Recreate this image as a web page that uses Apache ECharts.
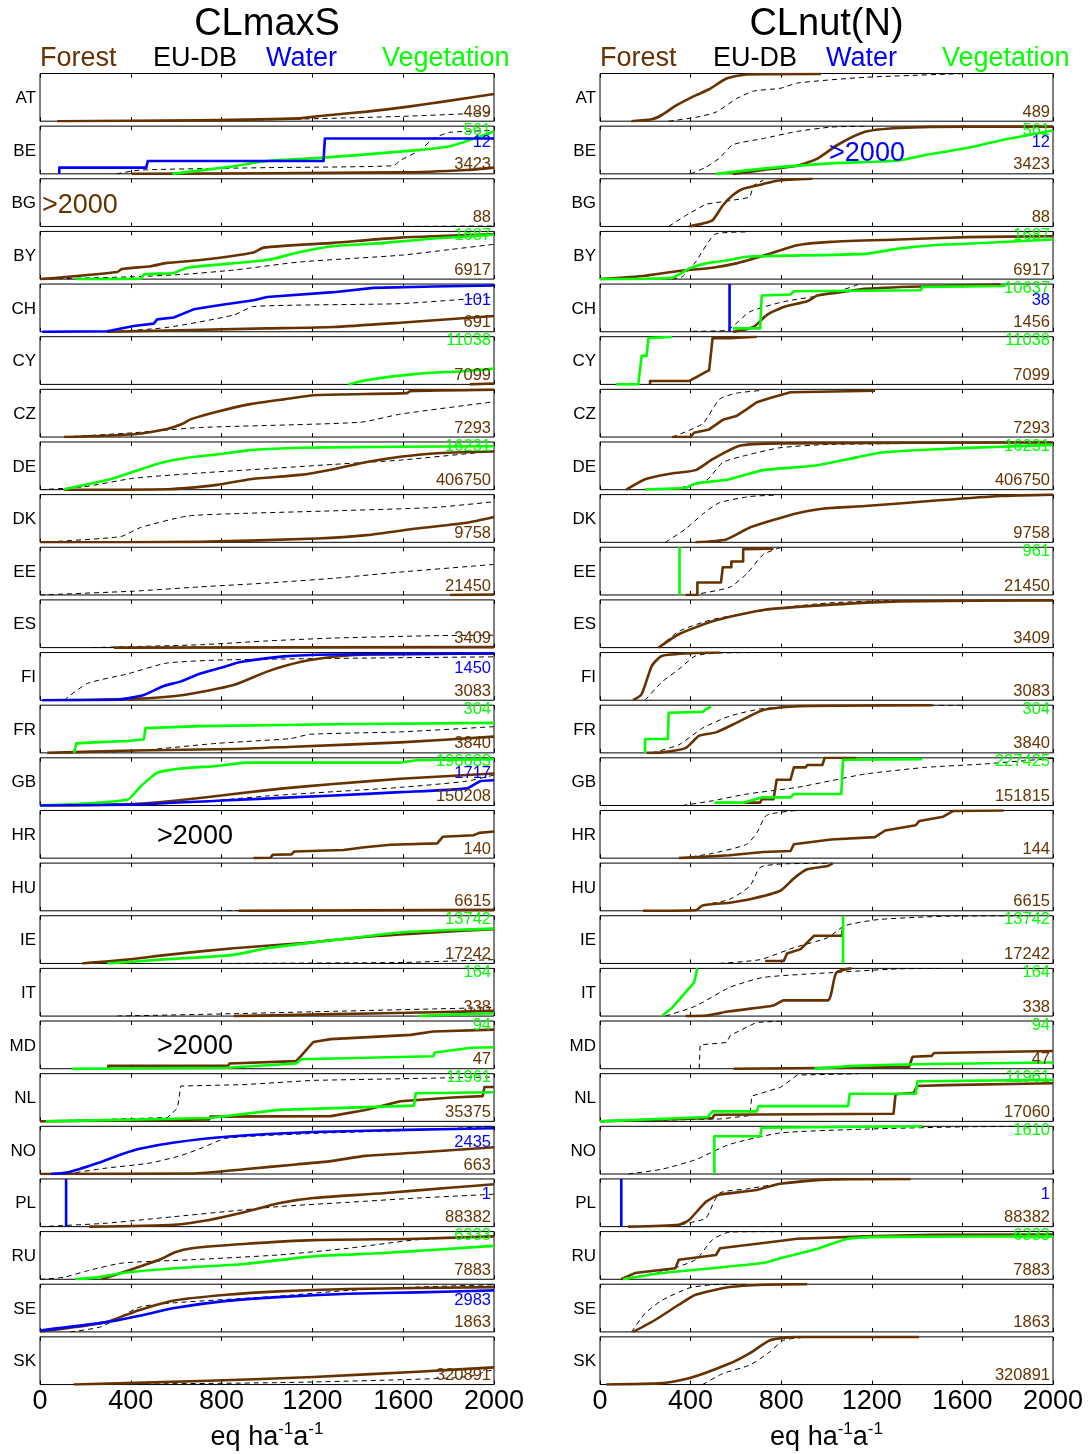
<!DOCTYPE html>
<html><head><meta charset="utf-8">
<script src="https://cdn.jsdelivr.net/npm/echarts@6/dist/echarts.min.js"></script>
<style>html,body{margin:0;padding:0;background:#fff}#c{width:1090px;height:1454px}</style>
</head><body><div id="c"></div>
<script>
// ---------------- DATA ----------------
const countries = ['AT','BE','BG','BY','CH','CY','CZ','DE','DK','EE','ES','FI','FR','GB','HR','HU','IE','IT','MD','NL','NO','PL','RU','SE','SK'];
const xTicks = [0, 400, 800, 1200, 1600, 2000];
const panelTitles = ['CLmaxS', 'CLnut(N)'];
const legendNames = ['Forest', 'EU-DB', 'Water', 'Vegetation'];

// CLmaxS : cumulative fraction curves [x (eq/ha/a), fraction]
const sForest = [
 [[76,0],[700,0.02],[1146,0.06],[1234,0.11],[1440,0.2],[1615,0.3],[1777,0.41],[2000,0.57]], // AT
 [[406,0],[1587,0.03],[1880,0.08],[2000,0.13]], // BE
 null, // BG
 [[0,0],[340,0.15],[360,0.21],[487,0.27],[560,0.34],[707,0.4],[941,0.56],[985,0.66],[1293,0.76],[1587,0.87],[2000,0.94]], // BY
 [[296,0],[1000,0.07],[1293,0.1],[1587,0.19],[2000,0.33]], // CH
 [[1894,0],[2000,0.02]], // CY
 [[106,0],[413,0.06],[560,0.17],[633,0.29],[663,0.37],[780,0.53],[927,0.69],[1073,0.79],[1220,0.88],[1616,0.92],[1630,0.96],[2000,0.99]], // CZ
 [[106,0],[560,0.01],[780,0.1],[927,0.22],[1146,0.31],[1293,0.43],[1440,0.58],[1587,0.69],[1733,0.76],[2000,0.8]], // DE
 [[0,0],[707,0.01],[1220,0.08],[1440,0.15],[1660,0.29],[1880,0.41],[2000,0.53]], // DK
 [[1806,0],[2000,0.01]], // EE
 [[326,0],[2000,0.01]], // ES
 [[10,0],[413,0.03],[633,0.11],[853,0.32],[1000,0.6],[1146,0.8],[1293,0.91],[1440,0.96],[2000,0.98]], // FI
 [[32,0],[413,0.05],[853,0.08],[1117,0.13],[1587,0.22],[2000,0.34]], // FR
 [[0,0],[413,0.03],[633,0.12],[853,0.24],[1073,0.36],[1293,0.45],[1587,0.56],[2000,0.67]], // GB
 [[941,0],[1015,0.01],[1025,0.07],[1108,0.08],[1120,0.14],[1337,0.17],[1430,0.23],[1545,0.28],[1750,0.31],[1775,0.45],[1910,0.48],[1935,0.53],[2000,0.56]], // HR
 [[875,0],[2000,0.02]], // HU
 [[186,0],[384,0.08],[560,0.18],[853,0.32],[1146,0.42],[1440,0.56],[1733,0.65],[2000,0.72]], // IE
 [[853,0],[1293,0.04],[1733,0.08],[2000,0.11]], // IT
 [[301,0],[301,0.06],[829,0.06],[835,0.11],[1128,0.16],[1150,0.27],[1204,0.56],[1281,0.62],[1633,0.71],[1732,0.78],[2000,0.82]], // MD
 [[0,0],[745,0.04],[750,0.1],[1281,0.11],[1434,0.24],[1587,0.42],[1817,0.5],[1950,0.53],[1958,0.72],[2000,0.72]], // NL
 [[0,0],[669,0.01],[898,0.1],[1128,0.2],[1281,0.27],[1434,0.38],[1664,0.45],[2000,0.56]], // NO
 [[217,0],[592,0.04],[745,0.14],[898,0.3],[1051,0.49],[1204,0.6],[1510,0.7],[1817,0.82],[2000,0.89]], // PL
 [[271,0],[363,0.14],[531,0.42],[592,0.56],[669,0.65],[898,0.74],[1204,0.82],[1664,0.85],[2000,0.9]], // RU
 [[0,0.01],[286,0.2],[439,0.46],[592,0.66],[822,0.78],[1051,0.85],[1357,0.9],[2000,0.94]], // SE
 [[148,0],[745,0.08],[1204,0.16],[1664,0.27],[2000,0.36]] // SK
];
const sEU = [
 [[413,0],[1000,0.03],[1587,0.1],[2000,0.18]], // AT
 [[337,0],[443,0.08],[1000,0.13],[1557,0.17],[1587,0.28],[1675,0.5],[1733,0.74],[1806,0.87],[2000,0.91]], // BE
 [[1572,0],[2000,0.01]], // BG
 [[0,0],[413,0.05],[633,0.1],[853,0.19],[1146,0.36],[1587,0.5],[1806,0.62],[2000,0.73]], // BY
 [[311,0],[560,0.09],[853,0.35],[941,0.53],[1587,0.59],[2000,0.73]], // CH
 null, // CY
 [[106,0],[413,0.09],[707,0.2],[1411,0.31],[1587,0.48],[2000,0.74]], // CZ
 [[0,0],[194,0.06],[413,0.24],[707,0.35],[1000,0.44],[1293,0.53],[1587,0.62],[2000,0.81]], // DE
 [[0,0],[355,0.12],[443,0.31],[648,0.55],[853,0.6],[1293,0.66],[1733,0.73],[2000,0.85]], // DK
 [[0,0],[413,0.08],[707,0.17],[1000,0.25],[1293,0.35],[1587,0.48],[2000,0.64]], // EE
 [[230,0],[707,0.06],[1000,0.14],[1293,0.2],[1733,0.25],[2000,0.26]], // ES
 [[106,0],[208,0.35],[384,0.55],[560,0.78],[853,0.85],[2000,0.91]], // FI
 [[120,0],[413,0.04],[780,0.2],[1103,0.3],[1190,0.39],[1587,0.44],[2000,0.55]], // FR
 [[120,0],[707,0.08],[1000,0.2],[1293,0.29],[1587,0.38],[1880,0.51],[2000,0.64]], // GB
 null, // HR
 [[824,0],[2000,0.01]], // HU
 [[824,0],[1587,0.02],[2000,0.08]], // IE
 [[340,0],[853,0.05],[1293,0.1],[1733,0.15],[2000,0.18]], // IT
 null, // MD
 [[0,0],[562,0.08],[606,0.28],[620,0.74],[898,0.77],[1204,0.86],[2000,0.93]], // NL
 [[118,0],[286,0.12],[485,0.23],[623,0.39],[715,0.55],[822,0.75],[1204,0.85],[1664,0.92],[2000,1.0]], // NO
 [[0,0],[286,0.07],[592,0.21],[1051,0.42],[1357,0.51],[1664,0.6],[2000,0.68]], // PL
 [[0,0],[103,0.04],[210,0.18],[363,0.34],[669,0.41],[1051,0.51],[1357,0.65],[1664,0.83],[2000,0.9]], // RU
 [[133,0],[270,0.11],[439,0.52],[592,0.61],[1051,0.75],[1357,0.87],[1664,0.94],[2000,0.99]], // SE
 [[148,0],[1051,0.04],[1510,0.09],[1817,0.14],[1930,0.2],[1960,0.28],[2000,0.3]] // SK
];
const sWater = [
 null,
 [[85,0],[85,0.13],[468,0.13],[475,0.27],[1249,0.27],[1255,0.74],[2000,0.74]], // BE
 null, null,
 [[10,0],[296,0.01],[413,0.12],[501,0.17],[516,0.26],[589,0.3],[677,0.47],[795,0.56],[941,0.66],[1000,0.73],[1293,0.83],[1469,0.92],[1733,0.95],[2000,0.97]], // CH
 null, null, null, null, null, null,
 [[10,0],[340,0.01],[457,0.11],[545,0.3],[619,0.39],[707,0.56],[824,0.72],[883,0.8],[1073,0.92],[1293,0.96],[2000,0.98]], // FI
 null,
 [[0,0],[413,0.02],[780,0.1],[1293,0.21],[1587,0.28],[1880,0.36],[1940,0.51],[2000,0.53]], // GB
 null, null, null, null, null, null,
 [[49,0],[118,0.03],[255,0.23],[363,0.42],[439,0.53],[592,0.66],[822,0.78],[1204,0.88],[1664,0.93],[2000,0.96]], // NO
 [[115,0],[115,1]], // PL
 null,
 [[0,0.03],[286,0.2],[439,0.34],[592,0.5],[822,0.65],[1051,0.73],[1357,0.8],[1664,0.83],[2000,0.87]], // SE
 null
];
const sVeg = [
 null,
 [[582,0],[839,0.15],[1000,0.27],[1249,0.34],[1572,0.46],[1806,0.58],[2000,0.89]], // BE
 null,
 [[157,0],[443,0.01],[460,0.1],[589,0.13],[648,0.24],[1000,0.4],[1146,0.57],[1293,0.69],[1513,0.76],[1733,0.85],[2000,0.93]], // BY
 null,
 [[1359,0],[1440,0.09],[1660,0.22],[1880,0.28],[2000,0.33]], // CY
 null,
 [[106,0.01],[267,0.17],[340,0.26],[413,0.38],[531,0.56],[648,0.67],[780,0.74],[927,0.83],[1146,0.88],[1587,0.9],[2000,0.91]], // DE
 null, null, null, null,
 [[150,0],[160,0.2],[238,0.22],[384,0.25],[457,0.28],[465,0.52],[707,0.56],[1293,0.6],[2000,0.63]], // FR
 [[0,0],[384,0.12],[443,0.4],[518,0.69],[633,0.78],[780,0.83],[912,0.9],[1587,0.9],[1660,0.95],[2000,0.97]], // GB
 null, null,
 [[296,0],[531,0.08],[853,0.18],[1000,0.32],[1293,0.49],[1587,0.65],[1806,0.7],[2000,0.73]], // IE
 [[1667,0],[1806,0.03],[2000,0.06]], // IT
 [[141,0],[822,0.02],[1128,0.11],[1150,0.2],[1732,0.26],[1740,0.34],[1900,0.44],[2000,0.45]], // MD
 [[26,0],[745,0.07],[1051,0.24],[1648,0.33],[1655,0.59],[2000,0.61]], // NL
 null, null,
 [[156,0],[255,0.04],[363,0.13],[592,0.23],[898,0.32],[1204,0.48],[1510,0.55],[1740,0.62],[2000,0.7]], // RU
 null, null
];
const sForestN = [489,3423,88,6917,691,7099,7293,406750,9758,21450,3409,3083,3840,150208,140,6615,17242,338,47,35375,663,88382,7883,1863,320891];
const sWaterN  = [null,12,null,null,101,null,null,null,null,null,null,1450,null,1717,null,null,null,null,null,null,2435,1,null,2983,null];
const sVegN    = [null,561,null,1687,null,11038,null,16231,null,null,null,null,304,196683,null,null,13742,164,94,11961,null,null,6333,null,null];

// CLnut(N)
const nForest = [
 [[139,0],[229,0.04],[273,0.13],[333,0.32],[422,0.54],[482,0.67],[557,0.89],[647,0.98],[975,0.99]], // AT
 [[587,0],[721,0.08],[871,0.17],[960,0.32],[1050,0.61],[1170,0.88],[1319,0.96],[1618,0.99],[2000,0.99]], // BE
 [[393,0],[453,0.06],[497,0.13],[542,0.44],[587,0.66],[632,0.79],[721,0.89],[781,0.96],[938,1.0]], // BG
 [[0,0],[199,0.07],[348,0.17],[497,0.24],[602,0.33],[721,0.49],[871,0.71],[1020,0.78],[1319,0.83],[1618,0.88],[2000,0.9]], // BY
 [[587,0],[677,0.1],[736,0.35],[811,0.52],[915,0.64],[960,0.76],[1065,0.83],[1170,0.9],[1469,0.96],[1767,0.99]], // CH
 [[221,0],[221,0.07],[393,0.07],[482,0.3],[497,0.97],[572,0.97],[692,1.0]], // CY
 [[318,0],[400,0],[415,0.09],[482,0.16],[542,0.36],[602,0.44],[647,0.58],[692,0.73],[751,0.82],[841,0.94],[1214,0.97]], // CZ
 [[116,0],[199,0.22],[303,0.33],[422,0.41],[497,0.64],[617,0.92],[796,0.97],[2000,0.99]], // DE
 [[422,0],[557,0.06],[662,0.31],[781,0.49],[871,0.61],[990,0.71],[1170,0.76],[1469,0.87],[1767,0.97],[2000,1.0]], // DK
 [[378,0],[430,0],[430,0.26],[534,0.26],[542,0.58],[580,0.58],[580,0.7],[632,0.7],[632,0.96],[766,0.97]], // EE
 [[259,0],[348,0.28],[497,0.55],[721,0.79],[1020,0.9],[1319,0.97],[2000,0.99]], // ES
 [[146,0],[184,0.13],[229,0.72],[273,0.93],[422,0.99],[527,1.0]], // FI
 [[206,0],[273,0.01],[378,0.1],[438,0.36],[512,0.43],[602,0.63],[721,0.9],[871,0.98],[1469,1.0]], // FR
 [[632,0.06],[707,0.06],[714,0.13],[766,0.13],[780,0.54],[841,0.54],[856,0.8],[908,0.8],[915,0.85],[982,0.85],[992,1.0],[1132,1.0]], // GB
 [[348,0],[572,0.06],[721,0.13],[841,0.15],[856,0.29],[1020,0.39],[1214,0.44],[1259,0.58],[1394,0.69],[1410,0.78],[1515,0.87],[1560,0.99],[1782,1.0]], // HR
 [[190,0],[422,0.01],[453,0.11],[572,0.17],[662,0.24],[796,0.42],[856,0.68],[915,0.87],[1005,0.94],[1028,1.0]], // HU
 [[729,0.05],[811,0.05],[826,0.21],[886,0.3],[945,0.58],[1068,0.58],[1073,0.75]], // IE
 [[378,0],[468,0.01],[572,0.1],[766,0.22],[811,0.33],[1005,0.33],[1043,0.91],[1110,1.0]], // IT
 [[590,0],[1095,0.02],[1364,0.04],[1380,0.25],[1464,0.27],[1475,0.33],[2000,0.37]], // MD
 [[0,0],[497,0.07],[505,0.14],[1296,0.16],[1305,0.57],[1386,0.6],[1400,0.74],[1528,0.76],[1535,0.8],[2000,0.8]], // NL
 null, // NO
 [[124,0],[348,0.04],[393,0.14],[468,0.52],[527,0.67],[692,0.77],[796,0.9],[1020,0.99],[1371,1.0]], // PL
 [[94,0],[154,0.13],[333,0.23],[348,0.41],[512,0.51],[530,0.65],[721,0.76],[871,0.85],[1170,0.9],[1469,0.93],[2000,0.94]], // RU
 [[146,0],[243,0.25],[348,0.57],[422,0.78],[572,0.94],[721,0.99],[915,1.0]], // SE
 [[27,0],[273,0.03],[393,0.13],[572,0.44],[662,0.66],[751,0.93],[871,1.0],[1408,1.0]] // SK
];
const nEU = [
 [[303,0],[422,0.08],[512,0.19],[602,0.47],[677,0.63],[796,0.69],[871,0.8],[1170,0.92],[1618,1.0]], // AT
 [[400,0],[468,0.14],[527,0.33],[587,0.61],[721,0.74],[871,0.89],[1020,0.98],[1170,1.0]], // BE
 [[303,0],[378,0.23],[468,0.47],[572,0.54],[662,0.61],[677,0.86],[721,0.97]], // BG
 [[318,0],[363,0.05],[422,0.36],[512,0.95],[662,0.99]], // BY
 [[408,0.01],[557,0.03],[662,0.42],[811,0.63],[1020,0.8],[1140,0.99]], // CH
 null, // CY
 [[318,0],[453,0.28],[527,0.79],[602,0.92],[721,0.98]], // CZ
 [[318,0],[468,0.19],[542,0.57],[662,0.74],[796,0.88],[1020,0.95],[2000,0.99]], // DE
 [[289,0],[378,0.28],[453,0.59],[527,0.83],[662,0.96],[781,0.99]], // DK
 [[408,0],[572,0.16],[647,0.44],[721,0.85],[796,0.99]], // EE
 [[259,0],[348,0.34],[497,0.59],[796,0.83],[1020,0.94],[1319,0.99]], // ES
 [[199,0],[273,0.38],[348,0.65],[422,0.93],[527,0.99],[692,1.0]], // FI
 [[229,0],[348,0.17],[453,0.52],[572,0.77],[721,0.93],[1020,0.99],[1618,1.0]], // FR
 [[363,0],[497,0.1],[647,0.24],[871,0.38],[1020,0.52],[1170,0.66],[1439,0.8],[1693,0.87],[2000,0.99]], // GB
 [[363,0],[497,0.1],[647,0.29],[692,0.53],[736,0.9],[871,1.0]], // HR
 [[422,0],[453,0.11],[572,0.24],[662,0.52],[707,0.91],[796,0.98],[1020,1.0]], // HU
 [[527,0],[707,0.08],[856,0.33],[1005,0.54],[1080,0.79],[1229,0.92],[1528,0.99],[1900,1.0]], // IE
 [[289,0],[422,0.21],[572,0.6],[721,0.81],[1020,0.91],[1319,0.99],[1500,1.0]], // IT
 [[438,0],[442,0.5],[560,0.55],[575,0.7],[690,0.97],[800,1.0]], // MD
 [[0,0],[527,0.05],[662,0.12],[670,0.53],[796,0.71],[871,0.97],[1140,1.0]], // NL
 [[124,0],[273,0.1],[422,0.3],[572,0.62],[796,0.86],[1170,0.94],[1618,0.99],[2000,1.0]], // NO
 [[318,0],[422,0.11],[468,0.18],[527,0.7],[647,0.79],[871,0.95],[1200,1.0]], // PL
 [[94,0],[273,0.16],[422,0.41],[497,0.83],[572,0.99],[796,1.0]], // RU
 [[139,0],[199,0.39],[273,0.66],[393,0.92],[497,0.99],[647,1.0]], // SE
 [[453,0],[542,0.23],[662,0.41],[751,0.69],[811,0.93],[945,1.0],[1200,1.0]] // SK
];
const nWater = [
 null, null, null, null,
 [[572,0],[572,1]], // CH
 null, null, null, null, null, null, null, null, null, null, null, null, null, null, null, null,
 [[94,0],[94,1]], // PL
 null, null, null
];
const nVeg = [
 null,
 [[512,0],[721,0.11],[1020,0.22],[1319,0.28],[1394,0.35],[1469,0.42],[1618,0.54],[1767,0.7],[1887,0.81],[2000,0.91]], // BE
 null,
 [[0,0],[318,0.03],[393,0.22],[468,0.33],[572,0.4],[647,0.47],[1170,0.53],[1319,0.64],[1469,0.71],[1618,0.74],[2000,0.83]], // BY
 [[587,0.07],[707,0.07],[714,0.76],[841,0.78],[856,0.85],[1416,0.87],[1423,0.94],[1782,0.96],[1795,1.0]], // CH
 [[72,0],[169,0],[184,0.6],[206,0.6],[214,0.97],[318,1.0]], // CY
 null,
 [[199,0.01],[378,0.04],[422,0.13],[572,0.22],[721,0.41],[945,0.5],[1095,0.64],[1244,0.78],[1543,0.86],[1767,0.9],[2000,0.94]], // DE
 null,
 [[351,0],[351,1]], // EE
 null, null,
 [[199,0],[199,0.29],[300,0.29],[303,0.84],[453,0.86],[470,0.92],[490,0.97]], // FR
 [[505,0.06],[632,0.06],[714,0.17],[841,0.17],[856,0.24],[1065,0.24],[1073,0.96],[1423,0.97]], // GB
 null, null,
 [[1073,0],[1073,1]], // IE
 [[273,0],[318,0.17],[415,0.7],[430,1.0]], // IT
 [[945,0],[1125,0.06],[1464,0.1],[2000,0.13]], // MD
 [[0,0],[475,0.09],[497,0.21],[692,0.21],[700,0.32],[1095,0.32],[1103,0.58],[1394,0.58],[1402,0.84],[2000,0.87]], // NL
 [[505,0],[505,0.79],[707,0.79],[714,0.97],[1423,1.0]], // NO
 null,
 [[102,0],[273,0.13],[422,0.2],[721,0.34],[796,0.44],[945,0.62],[1095,0.85],[1244,0.89],[2000,0.9]], // RU
 null, null
];
const nForestN = [489,3423,88,6917,1456,7099,7293,406750,9758,21450,3409,3083,3840,151815,144,6615,17242,338,47,17060,null,88382,7883,1863,320891];
const nWaterN  = [null,12,null,null,38,null,null,null,null,null,null,null,null,null,null,null,null,null,null,null,null,1,null,null,null];
const nVegN    = [null,561,null,1687,10637,11038,null,16231,null,961,null,null,304,227425,null,null,13742,164,94,11961,1610,null,6333,null,null];

// ">2000" notes: [column, country, colour key]
const overNotes = [[0,'BG','forest'],[0,'HR','eu'],[0,'MD','eu'],[1,'BE','water']];

// ---------------- CHART ----------------
const FONT = '"Liberation Sans", Arial, Helvetica, sans-serif';
const COLORS = {forest:'#663300', eu:'#000000', water:'#0000ff', veg:'#00ff00'};
const ROW0 = 73.5, ROWSTEP = 52.64, PH = 47.7;
const COLS = [{left:40, width:454}, {left:600, width:453}];
const panels = [
  {forest:sForest, eu:sEU, water:sWater, veg:sVeg, fN:sForestN, wN:sWaterN, vN:sVegN},
  {forest:nForest, eu:nEU, water:nWater, veg:nVeg, fN:nForestN, wN:nWaterN, vN:nVegN}
];
const grids = [], xAxes = [], yAxes = [], series = [], graphics = [];

function txt(text, x, y, color, size, align, valign, extra) {
  graphics.push(Object.assign({type:'text', z:50, silent:true, style:{
    text:String(text), x, y, fill:color, fontSize:size, fontFamily:FONT,
    align, textAlign:align, verticalAlign:valign, textVerticalAlign:valign
  }}, extra||{}));
}
// a curve is "stepped" if it contains a near-vertical jump; those are drawn unsmoothed
function isStepped(d) {
  for (let k = 1; k < d.length; k++) {
    const dx = d[k][0] - d[k-1][0], dy = d[k][1] - d[k-1][1];
    if (dx <= 16 && dy >= 0.04) return true;
  }
  return false;
}

panels.forEach((p, c) => {
  const L = COLS[c].left, W = COLS[c].width;
  countries.forEach((cc, i) => {
    const gi = grids.length;
    const top = ROW0 + i * ROWSTEP;
    const last = i === countries.length - 1;
    grids.push({left:L, top, width:W, height:PH, show:true, borderColor:'#000', borderWidth:1, backgroundColor:'rgba(0,0,0,0)', containLabel:false});
    const tick = {show:true, inside:true, length:4, lineStyle:{color:'#000', width:1}};
    xAxes.push({type:'value', gridIndex:gi, min:xTicks[0], max:xTicks[xTicks.length-1], interval:xTicks[1]-xTicks[0], position:'bottom',
      axisLine:{show:false}, axisTick:tick, splitLine:{show:false},
      axisLabel:{show:last, fontSize:27, color:'#000', fontFamily:FONT, margin:3, hideOverlap:false, formatter:v => String(v)}});
    xAxes.push({type:'value', gridIndex:gi, min:xTicks[0], max:xTicks[xTicks.length-1], interval:xTicks[1]-xTicks[0], position:'top',
      axisLine:{show:false}, axisTick:tick, splitLine:{show:false}, axisLabel:{show:false}});
    yAxes.push({type:'value', gridIndex:gi, min:0, max:1, show:false, splitLine:{show:false}});
    const xi = xAxes.length - 2;
    const add = (data, color, width, type, z) => {
      if (!data) return;
      const st = isStepped(data);
      series.push({type:'line', xAxisIndex:xi, yAxisIndex:gi, data, showSymbol:false, symbol:'none',
        smooth: st ? false : 0.2,
        lineStyle:{color, width, type, join:'round', cap:'butt'}, itemStyle:{color}, silent:true, animation:false, z, clip:true});
    };
    add(p.eu[i], COLORS.eu, 1, [5,4], 2);
    add(p.forest[i], COLORS.forest, 2.6, 'solid', 3);
    add(p.veg[i], COLORS.veg, 2.6, 'solid', 4);
    add(p.water[i], COLORS.water, 2.6, 'solid', 5);

    // country label
    txt(cc, L - 4, top + PH / 2 + 1, '#000', 17, 'right', 'middle');
    // counts
    const rx = L + W - 3;
    if (p.fN[i] != null) txt(p.fN[i], rx, top + PH - 9, COLORS.forest, 16.5, 'right', 'middle');
    if (p.wN[i] != null) txt(p.wN[i], rx, top + 16, COLORS.water, 16.5, 'right', 'middle');
    if (p.vN[i] != null) txt(p.vN[i], rx, top + 4, COLORS.veg, 16.5, 'right', 'middle');
  });

  // titles & legend words
  txt(panelTitles[c], L + W / 2, 25, '#000', 38, 'center', 'middle');
  const legX = [0, 113, 226, 342];
  const legC = [COLORS.forest, COLORS.eu, COLORS.water, COLORS.veg];
  legendNames.forEach((n, k) => txt(n, L + legX[k], 58.5, legC[k], 27, 'left', 'middle'));

  // axis name with superscripts
  graphics.push({type:'text', z:50, silent:true, style:{
    text:'{a|eq ha}{s|-1}{a|a}{s|-1}', x:L + W / 2, y:1436,
    align:'center', textAlign:'center', verticalAlign:'middle', textVerticalAlign:'middle',
    fill:'#000', fontFamily:FONT, fontSize:27,
    rich:{a:{fontSize:27, fontFamily:FONT, fill:'#000', color:'#000', verticalAlign:'bottom', lineHeight:30},
          s:{fontSize:17, fontFamily:FONT, fill:'#000', color:'#000', verticalAlign:'top', lineHeight:30}}
  }});
});

// ">2000" notes
overNotes.forEach(([c, cc, key]) => {
  const i = countries.indexOf(cc);
  const top = ROW0 + i * ROWSTEP;
  const L = COLS[c].left;
  if (c === 0 && key === 'forest') txt('>2000', L + 2, top + 27, COLORS[key], 27, 'left', 'middle');
  else if (c === 0) txt('>2000', L + 155, top + 26, COLORS[key], 27, 'center', 'middle');
  else txt('>2000', L + 267, top + 27, COLORS[key], 27, 'center', 'middle');
});

const chart = echarts.init(document.getElementById('c'), null, {renderer:'canvas'});
chart.setOption({animation:false, backgroundColor:'#fff', grid:grids, xAxis:xAxes, yAxis:yAxes, series, graphic:graphics});
</script>
</body></html>
